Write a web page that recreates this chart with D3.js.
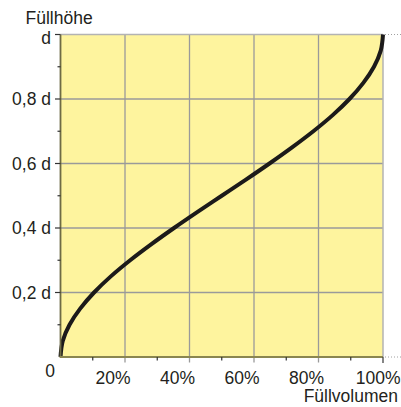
<!DOCTYPE html>
<html>
<head>
<meta charset="utf-8">
<script src="https://cdn.jsdelivr.net/npm/d3@7/dist/d3.min.js"></script>
<style>
html,body{margin:0;padding:0;background:#fff;}
svg{display:block;}
text{font-family:"Liberation Sans",Arial,Helvetica,sans-serif;fill:#231f20;}
</style>
</head>
<body>
<svg id="chart" width="401" height="407"></svg>
<script>
// Data: filling volume (fraction) vs filling height (fraction of d)
const heights = [0, 0.05, 0.1, 0.15, 0.2, 0.25, 0.3, 0.35, 0.4, 0.45, 0.5, 0.55, 0.6, 0.65, 0.7, 0.75, 0.8, 0.85, 0.9, 0.95, 1];
const volumes = [0, 0.007, 0.028, 0.061, 0.104, 0.156, 0.216, 0.282, 0.352, 0.425, 0.5, 0.575, 0.648, 0.718, 0.784, 0.844, 0.896, 0.939, 0.972, 0.993, 1];
const xTickValues = [0.2, 0.4, 0.6, 0.8, 1];
const xTickLabels = ["20%", "40%", "60%", "80%", "100%"];
const yTickValues = [0.2, 0.4, 0.6, 0.8, 1];
const yTickLabels = ["0,2 d", "0,4 d", "0,6 d", "0,8 d", "d"];
const minorTickValues = [0.1, 0.3, 0.5, 0.7, 0.9];
const yAxisTitle = "Füllhöhe";
const xAxisTitle = "Füllvolumen";
const originLabel = "0";

const svg = d3.select("#chart");
const L = 60.5, R = 383, T = 34.5, B = 357;
const x = d3.scaleLinear().domain([0, 1]).range([L, R]);
const y = d3.scaleLinear().domain([0, 1]).range([B, T]);

// background
svg.append("rect").attr("x", x(0)).attr("y", y(1))
  .attr("width", x(1) - x(0)).attr("height", y(0) - y(1))
  .attr("fill", "#fef49e");

// grid
const grid = svg.append("g").attr("stroke", "#9a9a9a").attr("stroke-width", 1.3);
[0.2, 0.4, 0.6, 0.8].forEach(v => {
  grid.append("line").attr("x1", x(v)).attr("x2", x(v)).attr("y1", y(1)).attr("y2", y(0) + 5.5);
  grid.append("line").attr("y1", y(v)).attr("y2", y(v)).attr("x1", x(0)).attr("x2", x(1));
});

// top & right borders
svg.append("line").attr("x1", x(0)).attr("x2", x(1)).attr("y1", y(1)).attr("y2", y(1))
  .attr("stroke", "#b3b3b3").attr("stroke-width", 1.5);
svg.append("line").attr("x1", x(1)).attr("x2", x(1)).attr("y1", y(1)).attr("y2", y(0))
  .attr("stroke", "#b3b3b3").attr("stroke-width", 1.5);
// dotted extensions
[0, 1].forEach(v => {
  svg.append("line").attr("x1", x(1) + 2).attr("x2", 401).attr("y1", y(v)).attr("y2", y(v))
    .attr("stroke", "#a0a0a0").attr("stroke-width", 1).attr("stroke-dasharray", "1,2");
});

// curve
const pts = heights.map((h, i) => [volumes[i], h]);
const line = d3.line().x(d => x(d[0])).y(d => y(d[1])).curve(d3.curveMonotoneY);
svg.append("path").datum(pts).attr("d", line)
  .attr("fill", "none").attr("stroke", "#1c1a1a").attr("stroke-width", 4)
  .attr("stroke-linecap", "butt");

// axes lines
svg.append("line").attr("x1", x(0)).attr("x2", x(0)).attr("y1", y(1)).attr("y2", y(0))
  .attr("stroke", "#6e6b45").attr("stroke-width", 1.8);
svg.append("line").attr("x1", x(0) - 0.9).attr("x2", x(1)).attr("y1", y(0)).attr("y2", y(0))
  .attr("stroke", "#8a8650").attr("stroke-width", 1.8);
svg.append("line").attr("x1", x(1)).attr("x2", x(1)).attr("y1", y(0)).attr("y2", y(0) + 6)
  .attr("stroke", "#444").attr("stroke-width", 1.3);

// y ticks
const ticks = svg.append("g").attr("stroke", "#333").attr("stroke-width", 1.2);
yTickValues.forEach(v => {
  ticks.append("line").attr("x1", x(0) - 5.5).attr("x2", x(0)).attr("y1", y(v)).attr("y2", y(v));
});
minorTickValues.forEach(v => {
  ticks.append("line").attr("x1", x(0) - 3).attr("x2", x(0)).attr("y1", y(v)).attr("y2", y(v));
  ticks.append("line").attr("x1", x(v)).attr("x2", x(v)).attr("y1", y(0)).attr("y2", y(0) + 3.5);
});

// labels
const fs = 17.5;
yTickLabels.forEach((t, i) => {
  const v = yTickValues[i];
  const dy = v === 1 ? 9 : 6.3;
  svg.append("text").attr("x", x(0) - 9.5).attr("y", y(v) + dy)
    .attr("text-anchor", "end").attr("font-size", fs).text(t);
});
svg.append("text").attr("x", x(0) - 5.5).attr("y", y(0) + 20)
  .attr("text-anchor", "end").attr("font-size", fs).text(originLabel);
xTickLabels.forEach((t, i) => {
  const v = xTickValues[i];
  const xx = v === 1 ? 400.5 : x(v) + 5.5;
  svg.append("text").attr("x", xx).attr("y", y(0) + 26.5)
    .attr("text-anchor", "end").attr("font-size", fs).text(t);
});
svg.append("text").attr("x", 25.5).attr("y", 23.5).attr("font-size", fs).text(yAxisTitle);
svg.append("text").attr("x", 398).attr("y", 402).attr("text-anchor", "end")
  .attr("font-size", fs).text(xAxisTitle);
</script>
</body>
</html>
